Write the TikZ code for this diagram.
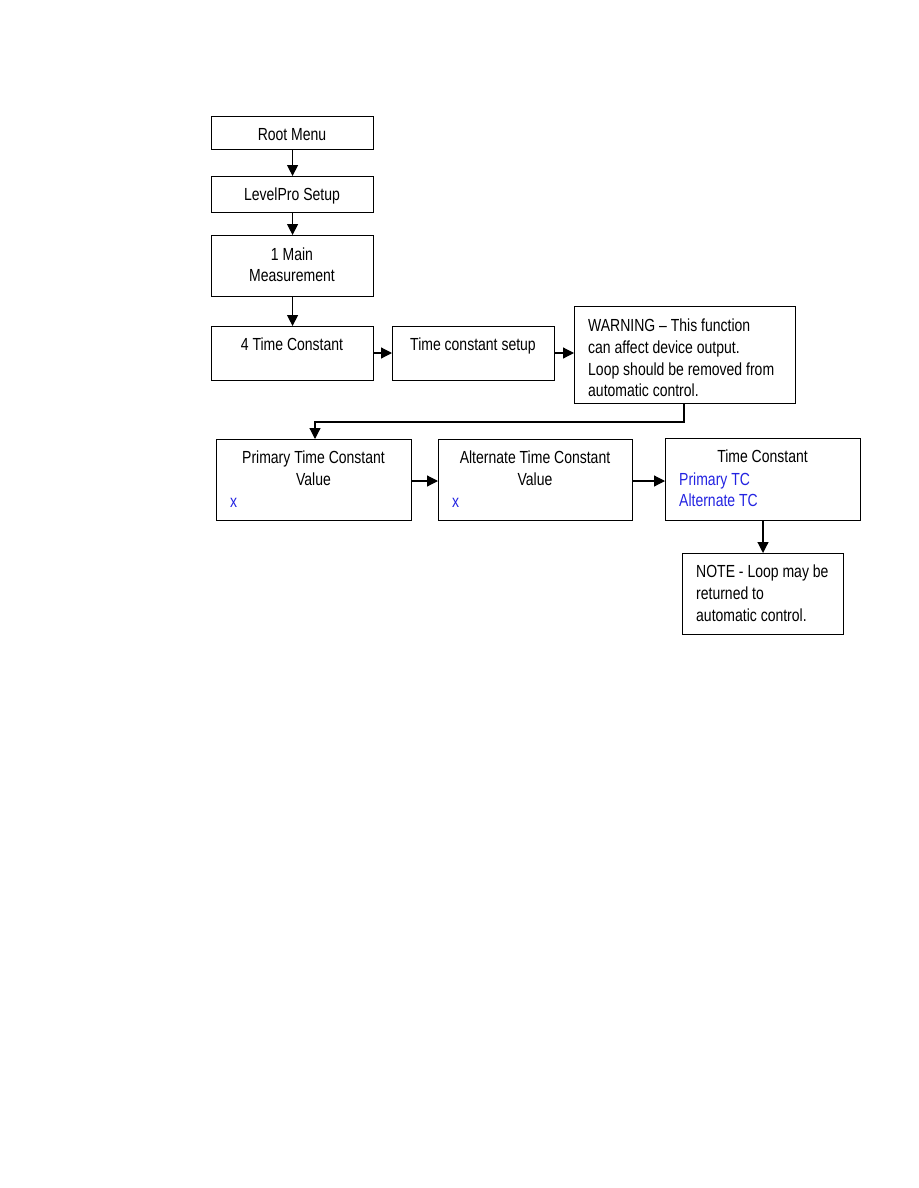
\documentclass[tikz,border=0pt]{standalone}
\usepackage{fontspec}
\setmainfont{Liberation Sans}[FakeStretch=0.80]
\usetikzlibrary{arrows.meta}
\definecolor{tcblue}{RGB}{35,35,225}
\begin{document}
\begin{tikzpicture}[x=1pt,y=-1pt,
  box/.style={draw,line width=1.1pt,inner sep=0pt,anchor=north west},
  txt/.style={inner sep=0pt,anchor=base,font=\fontsize{17.5}{22}\selectfont},
  ltxt/.style={txt,anchor=base west},
  val/.style={ltxt,text=tcblue},
  conn/.style={line width=1.2pt,-{Triangle[length=11pt,width=11pt]}}]
\useasboundingbox (0,0) rectangle (918,1188);
% boxes
\node[box,minimum width=162,minimum height=33] (root) at (211,116) {};
\node[box,minimum width=162,minimum height=36] (lps) at (211,176) {};
\node[box,minimum width=162,minimum height=61] (mm) at (211,235) {};
\node[box,minimum width=162,minimum height=54] (tc4) at (211,326) {};
\node[box,minimum width=162,minimum height=54] (tcs) at (392,326) {};
\node[box,minimum width=221,minimum height=97] (warn) at (574,306) {};
\node[box,minimum width=195,minimum height=81] (ptc) at (216,439) {};
\node[box,minimum width=194,minimum height=81] (atc) at (438,439) {};
\node[box,minimum width=195,minimum height=82] (tcm) at (665,438) {};
\node[box,minimum width=161,minimum height=81] (note) at (682,553) {};
% texts
\node[txt] (t1) at (292,140) {Root Menu};
\node[txt] (t2) at (292,200) {LevelPro Setup};
\node[txt] (t3a) at (292,260) {1 Main};
\node[txt] (t3b) at (292,281.5) {Measurement};
\node[txt] (t4) at (292,350.5) {4 Time Constant};
\node[txt] (t5) at (473,350.5) {Time constant setup};
\node[ltxt] (w1) at (588,331.5) {WARNING -- This function};
\node[ltxt] (w2) at (588,353) {can affect device output.};
\node[ltxt] (w3) at (588,375) {Loop should be removed from};
\node[ltxt] (w4) at (588,396.5) {automatic control.};
\node[txt] (p1) at (313.5,463.3) {Primary Time Constant};
\node[txt] (p2) at (313.5,485.5) {Value};
\node[val] (p3) at (230,507) {x};
\node[txt] (a1) at (535,463.3) {Alternate Time Constant};
\node[txt] (a2) at (535,485.5) {Value};
\node[val] (a3) at (452,507) {x};
\node[txt] (c1) at (762.5,462.7) {Time Constant};
\node[val] (c2) at (679,485) {Primary TC};
\node[val] (c3) at (679,506.5) {Alternate TC};
\node[ltxt] (n1) at (696,577) {NOTE - Loop may be};
\node[ltxt] (n2) at (696,599.5) {returned to};
\node[ltxt] (n3) at (696,621.5) {automatic control.};
% connectors
\draw[conn] (root.south) -- (lps.north);
\draw[conn] (lps.south) -- (mm.north);
\draw[conn] (mm.south) -- (tc4.north);
\draw[conn] (tc4.east |- 0,353) -- (tcs.west |- 0,353);
\draw[conn] (tcs.east |- 0,353) -- (warn.west |- 0,353);
\coordinate (wd) at (684,422);
\draw[conn] (warn.south -| wd) -- (wd) -- (315,422) -- (ptc.north -| 315,0);
\draw[conn] (ptc.east |- 0,481) -- (atc.west |- 0,481);
\draw[conn] (atc.east |- 0,481) -- (tcm.west |- 0,481);
\draw[conn] (tcm.south -| 763,0) -- (note.north -| 763,0);
\end{tikzpicture}
\end{document}
